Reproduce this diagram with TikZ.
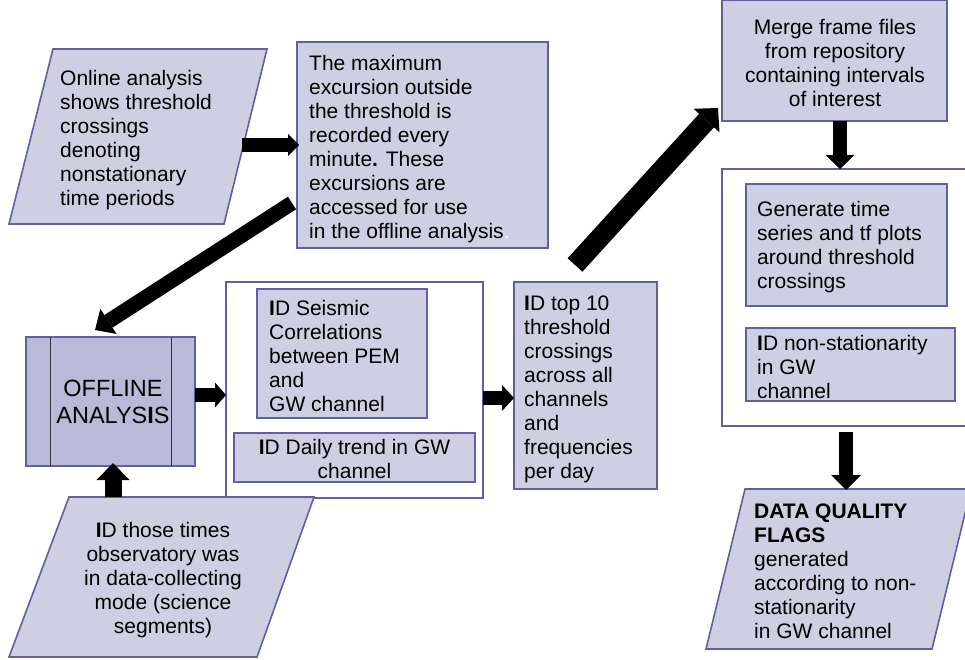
\documentclass[tikz,border=0pt]{standalone}
\usepackage{fontspec}
\setmainfont{Liberation Sans}
\usetikzlibrary{arrows.meta,calc}
\definecolor{boxfill}{RGB}{207,207,227}
\definecolor{offfill}{RGB}{186,186,216}
\definecolor{boxline}{RGB}{96,96,160}
\tikzset{
  bx/.style={draw=boxline, line width=1.6pt, fill=boxfill, inner sep=0pt, outer sep=0pt, anchor=north west},
  cont/.style={draw=boxline, line width=1.6pt, fill=white, inner sep=0pt, outer sep=0pt, anchor=north west},
  para/.style={draw=boxline, line width=1.6pt, fill=boxfill},
  txt/.style={font=\fontsize{21}{24}\selectfont, inner sep=0pt, align=left},
  ctxt/.style={txt, align=center},
  barrow/.style args={#1/#2/#3}{line width=#1, -{Triangle[width=#2,length=#3,line width=0pt]}},
}
\begin{document}
\begin{tikzpicture}[x=1pt,y=-1pt]
\useasboundingbox (0,0) rectangle (965,659);
\clip (0,0) rectangle (965,659);

% containers
\node[cont, minimum width=257pt, minimum height=216pt] (c1) at (226,282) {};
\node[cont, minimum width=250pt, minimum height=257pt] (c2) at (722,169) {};

% parallelograms
\draw[para] (53,49) -- (267,49) -- (224,224) -- (9,224) -- cycle;
\node[txt, anchor=west] (online) at (60,140) {Online analysis\\shows threshold\\crossings\\denoting\\nonstationary\\time periods};

\draw[para] (69,497) -- (314,497) -- (257,657) -- (9,657) -- cycle;
\node[ctxt] (science) at (163,580) {\textbf{I}D those times\\observatory was\\in data-collecting\\mode (science\\segments)};

\draw[para] (745,489) -- (971,489) -- (932,649) -- (706,649) -- cycle;
\node[txt, anchor=west] (dq) at (754,571) {\textbf{DATA QUALITY}\\\textbf{FLAGS}\\generated\\according to non-\\stationarity\\in GW channel};

% boxes
\node[bx, minimum width=251pt, minimum height=206pt] (maxb) at (297,42) {};
\node[txt, anchor=west] (maxt) at (309,149) {The maximum\\excursion outside\\the threshold is\\recorded every\\minute\textbf{.} These\\excursions are\\accessed for use\\in the offline analysis\textcolor{white}{.}};

\node[bx, fill=offfill, minimum width=169pt, minimum height=129pt] (off) at (26,337) {};
\draw[black!80, line width=0.8pt] (50,337) -- (50,466) (171,337) -- (171,466);
\node[ctxt, font=\fontsize{23.5}{27}\selectfont] (offt) at (113,402) {OFFLINE\\ANALYS\textbf{I}S};

\node[bx, minimum width=170pt, minimum height=129pt] (seis) at (257,289) {};
\node[txt, anchor=west] (seist) at (269,355.5) {\textbf{I}D Seismic\\Correlations\\between PEM\\and\\GW channel};

\node[bx, minimum width=241pt, minimum height=49pt] (daily) at (234,433) {};
\node[ctxt] (dailyt) at (354.5,459) {\textbf{I}D Daily trend in GW\\channel};

\node[bx, minimum width=143pt, minimum height=207pt] (top) at (514,282) {};
\node[txt, anchor=west] (topt) at (524,389) {\textbf{I}D top 10\\threshold\\crossings\\across all\\channels\\and\\frequencies\\per day};

\node[bx, minimum width=225pt, minimum height=121pt] (merge) at (722,0) {};
\node[ctxt] (merget) at (835,62.5) {Merge frame files\\from repository\\containing intervals\\of interest};

\node[bx, minimum width=201pt, minimum height=122pt] (gen) at (746,184) {};
\node[txt, anchor=west] (gent) at (757,247.5) {Generate time\\series and tf plots\\around threshold\\crossings};

\node[bx, minimum width=209pt, minimum height=73pt] (nonst) at (746,328) {};
\node[txt, anchor=west] (nonstt) at (757,367) {\textbf{I}D non-stationarity\\in GW\\channel};

% arrows
\coordinate (a1s) at (242,145);
\draw[barrow=14pt/22pt/11pt] (a1s) -- ($(maxb.west |- a1s)+(2,0)$);
\coordinate (a2s) at (292,203);
\coordinate (a2e) at (95,330);
\draw[barrow=15pt/30pt/16pt] (a2s) -- (a2e);
\draw[barrow=14pt/25pt/11pt] (off.east |- 0,395) -- (c1.west |- 0,395);
\coordinate (a4s) at (113,497);
\draw[barrow=17pt/33pt/17pt] (a4s) -- ($(off.south -| a4s)+(0,-3)$);
\draw[barrow=14pt/26pt/12pt] (c1.east |- 0,398) -- (top.west |- 0,398);
\coordinate (a6s) at (575,265);
\coordinate (a6e) at (718,108);
\draw[barrow=20pt/35pt/17pt] (a6s) -- (a6e);
\draw[barrow=14pt/29pt/14pt] (merge.south -| 840,0) -- (c2.north -| 840,0);
\draw[barrow=14pt/30pt/15pt] ($(c2.south -| 846,0)+(0,6)$) -- (846,490);
\end{tikzpicture}
\end{document}
